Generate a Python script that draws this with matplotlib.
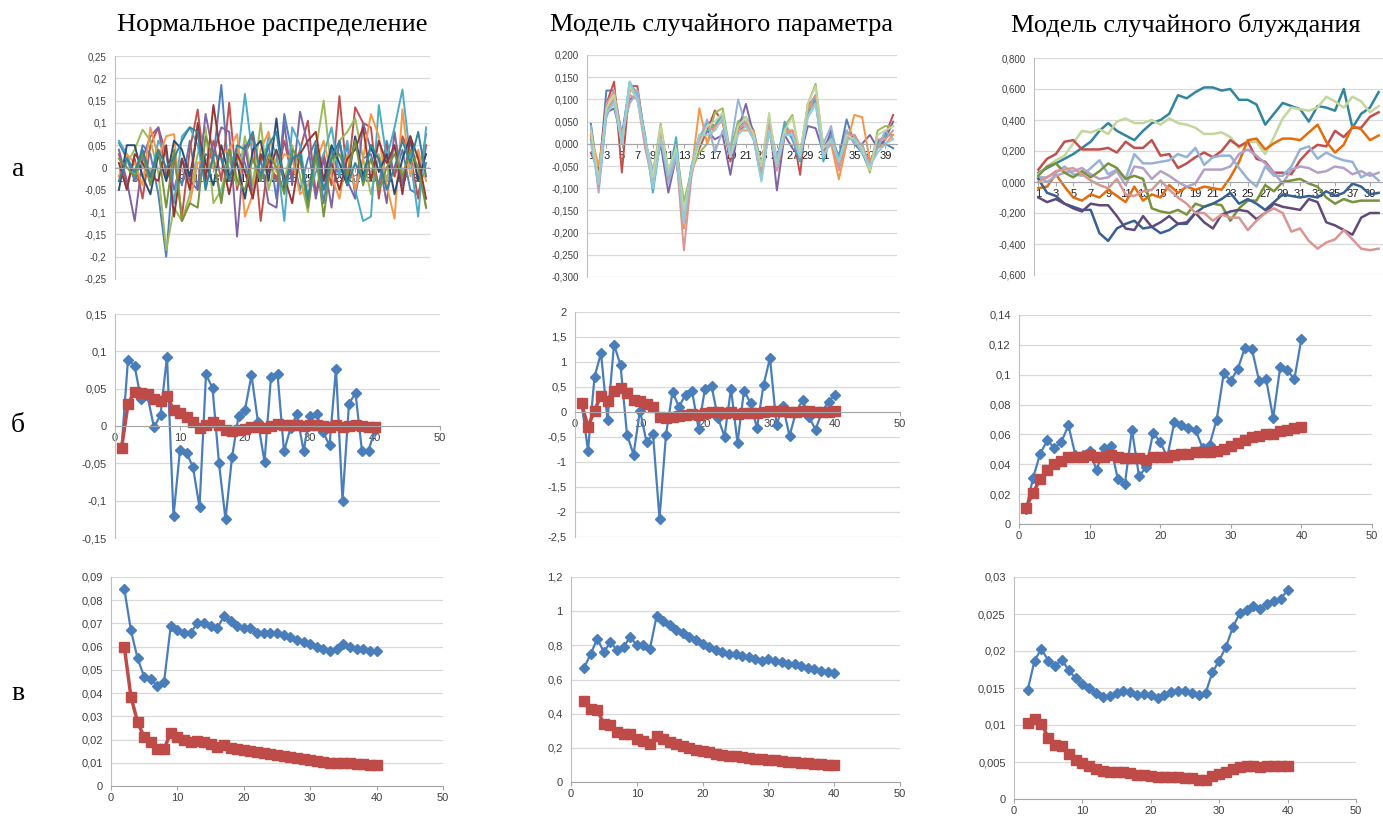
import matplotlib

matplotlib.use("Agg")
import matplotlib.pyplot as plt
from matplotlib.ticker import FuncFormatter, MultipleLocator

# ---- column titles / row letters
col_titles = ["Нормальное распределение", "Модель случайного параметра", "Модель случайного блуждания"]
row_letters = ["а", "б", "в"]

# ---- row а: individual runs (categories 1..40)
categories = list(range(1, 41))

normal_runs = [
    [0.055, 0.02, -0.03, 0.05, 0.03, -0.06, -0.2, 0.02, -0.04, 0.06, -0.05, 0.03, 0.02, 0.185, -0.03, 0.04, 0.01, -0.06, 0.02, 0.05,
     -0.07, 0.12, 0.03, -0.05, 0.02, 0.06, -0.08, 0.04, -0.02, 0.05, -0.06, 0.02, 0.03, -0.04, 0.06, -0.02, 0.04, -0.05, -0.06, 0.01],
    [0.03, -0.04, 0.02, -0.07, 0.05, 0.09, -0.02, 0.03, -0.11, 0.04, 0.13, -0.02, 0.06, -0.03, 0.145, -0.05, 0.03, 0.07, -0.12, 0.02,
     -0.03, 0.06, -0.02, 0.04, 0.105, -0.06, 0.03, -0.04, 0.16, -0.03, 0.135, 0.10, 0.09, -0.07, 0.05, -0.02, 0.07, 0.03, -0.07, 0.05],
    [-0.02, 0.01, 0.04, 0.085, 0.06, -0.01, -0.185, -0.09, -0.12, -0.06, 0.03, 0.09, -0.08, -0.05, 0.02, -0.04, 0.07, -0.04, 0.10, -0.05,
     0.02, -0.03, 0.05, -0.02, -0.10, 0.04, 0.15, -0.01, 0.06, 0.08, 0.11, 0.02, -0.06, 0.03, -0.03, 0.05, -0.02, 0.01, 0.03, -0.09],
    [0.04, -0.03, -0.12, 0.02, 0.07, 0.09, 0.03, -0.05, 0.02, -0.03, -0.05, 0.12, 0.03, 0.09, 0.08, -0.155, 0.05, -0.06, 0.02, -0.08,
     -0.09, 0.10, -0.04, 0.125, 0.05, -0.07, 0.02, -0.09, 0.06, -0.03, -0.07, 0.10, 0.04, 0.02, -0.08, 0.08, -0.04, 0.06, -0.03, 0.075],
    [0.06, 0.03, -0.02, 0.01, -0.03, 0.06, 0.03, -0.08, 0.07, 0.09, 0.05, -0.04, 0.02, -0.07, 0.03, 0.01, 0.165, 0.02, -0.03, 0.07,
     0.03, -0.12, 0.09, 0.05, -0.07, -0.01, 0.03, 0.09, -0.02, 0.06, -0.05, -0.12, -0.11, 0.14, 0.02, 0.09, 0.175, 0.02, -0.11, 0.09],
    [-0.02, 0.03, 0.01, -0.04, 0.09, 0.02, 0.07, 0.075, -0.12, -0.08, 0.01, 0.02, 0.00, 0.03, 0.04, 0.075, -0.11, -0.06, 0.04, 0.08,
     -0.01, 0.03, 0.02, -0.06, -0.04, 0.01, 0.06, -0.02, -0.07, 0.03, -0.05, 0.02, 0.12, 0.07, -0.04, -0.115, 0.13, -0.02, 0.04, -0.03],
    [-0.05, 0.05, 0.05, -0.02, -0.06, 0.03, -0.03, 0.06, 0.04, -0.02, 0.08, 0.01, -0.04, 0.05, -0.02, 0.01, -0.07, 0.04, 0.06, -0.03,
     0.11, -0.05, 0.02, 0.03, -0.08, 0.04, -0.03, 0.05, 0.01, -0.04, 0.07, -0.02, 0.05, -0.01, 0.03, -0.06, 0.02, 0.07, -0.03, 0.03],
    [0.01, -0.05, 0.03, 0.01, -0.02, -0.03, 0.05, -0.11, 0.02, -0.05, 0.10, -0.03, 0.14, 0.02, -0.06, 0.03, -0.01, -0.07, 0.03, -0.01,
     0.04, -0.02, -0.08, 0.03, 0.06, 0.08, -0.03, 0.01, -0.05, 0.02, 0.04, 0.09, -0.03, 0.06, 0.01, 0.05, -0.06, 0.07, 0.02, -0.07],
    [0.02, 0.00, -0.02, 0.03, -0.04, 0.04, -0.09, 0.04, -0.12, -0.08, -0.09, 0.07, 0.02, -0.08, 0.04, -0.03, -0.05, 0.02, -0.03, 0.03,
     0.00, -0.06, 0.04, 0.02, -0.09, 0.03, -0.11, 0.02, 0.03, -0.02, 0.06, -0.04, 0.02, -0.05, 0.00, 0.03, -0.02, 0.04, 0.00, -0.09],
    [-0.03, 0.02, -0.01, 0.04, -0.02, 0.04, 0.00, 0.02, 0.06, 0.09, 0.08, -0.05, 0.03, 0.02, -0.03, 0.05, 0.04, 0.08, -0.02, 0.05,
     0.08, -0.04, 0.02, 0.03, -0.07, 0.05, -0.05, 0.02, 0.06, -0.04, 0.01, -0.03, 0.05, 0.02, -0.05, 0.00, 0.06, 0.01, 0.08, -0.02],
]

param_runs = [
    [0.045, -0.08, 0.12, 0.12, 0.02, 0.13, 0.10, 0.01, -0.09, 0.01, -0.06, -0.03, -0.16, -0.05, 0.01, 0.05, 0.04, 0.06, -0.02, 0.05,
     0.06, 0.03, -0.05, 0.05, -0.04, 0.04, 0.01, -0.02, 0.08, 0.11, -0.02, 0.00, -0.03, 0.055, 0.00, -0.02, -0.06, 0.01, 0.00, -0.01],
    [-0.02, -0.06, 0.09, 0.14, -0.065, 0.13, 0.13, 0.01, -0.085, 0.02, -0.07, -0.02, -0.19, -0.05, -0.01, 0.03, 0.075, 0.05, -0.04, 0.03,
     0.04, 0.02, -0.07, 0.03, -0.06, 0.02, 0.03, -0.07, 0.09, 0.10, -0.01, 0.02, -0.05, 0.01, 0.02, -0.01, -0.04, 0.00, 0.02, 0.065],
    [0.02, -0.09, 0.07, 0.11, 0.00, 0.12, 0.12, 0.00, -0.07, 0.045, -0.06, -0.01, -0.13, -0.06, -0.02, 0.00, 0.07, 0.08, -0.02, 0.05,
     0.06, 0.02, -0.06, 0.05, -0.05, 0.04, 0.065, -0.03, 0.09, 0.135, -0.01, 0.01, -0.04, 0.02, 0.01, -0.01, -0.065, 0.03, 0.04, 0.04],
    [0.03, -0.10, 0.07, 0.08, 0.01, 0.10, 0.11, 0.01, -0.08, 0.00, -0.11, -0.03, -0.18, -0.06, 0.00, 0.03, 0.01, 0.02, -0.07, 0.03,
     0.09, 0.02, -0.05, 0.06, -0.105, 0.02, -0.01, -0.03, 0.04, 0.035, -0.02, 0.03, -0.04, 0.03, 0.00, 0.00, 0.02, -0.01, 0.01, 0.05],
    [0.01, -0.09, 0.08, 0.10, 0.01, 0.14, 0.11, 0.02, -0.11, 0.01, -0.08, 0.015, -0.17, -0.05, 0.02, 0.03, 0.04, 0.07, -0.03, 0.04,
     0.05, 0.01, -0.08, 0.03, -0.04, 0.05, 0.01, -0.04, 0.07, 0.10, -0.04, 0.02, -0.03, 0.02, 0.02, -0.02, -0.05, 0.00, 0.02, 0.02],
    [0.02, -0.05, 0.06, 0.11, 0.00, 0.12, 0.12, 0.00, -0.08, 0.03, -0.075, -0.02, -0.19, -0.06, 0.08, 0.00, 0.04, 0.05, -0.02, 0.03,
     0.03, 0.03, -0.07, 0.04, -0.05, 0.03, 0.03, -0.03, 0.08, 0.09, -0.02, 0.00, -0.08, 0.00, 0.065, 0.06, -0.04, -0.01, 0.00, 0.02],
    [0.04, -0.11, 0.06, 0.10, 0.02, 0.09, 0.12, 0.01, -0.06, 0.02, -0.09, -0.03, -0.16, -0.07, 0.01, 0.055, -0.02, 0.03, -0.01, 0.10,
     0.04, 0.02, -0.06, 0.05, -0.03, 0.03, 0.02, -0.03, 0.06, 0.09, 0.00, 0.04, -0.05, 0.03, 0.00, 0.00, -0.05, -0.01, 0.03, 0.01],
    [0.02, -0.10, 0.09, 0.12, 0.01, 0.11, 0.10, -0.01, -0.09, 0.02, -0.07, -0.02, -0.24, -0.07, 0.01, 0.04, 0.03, 0.06, -0.03, 0.03,
     0.05, 0.01, -0.06, 0.04, -0.06, 0.02, 0.03, -0.03, 0.08, 0.11, -0.01, 0.01, -0.06, 0.02, 0.02, -0.01, -0.05, 0.01, 0.01, 0.03],
    [0.03, -0.08, 0.08, 0.11, 0.00, 0.13, 0.10, 0.01, -0.075, 0.04, -0.06, -0.01, -0.15, -0.06, 0.00, 0.04, 0.05, 0.07, -0.03, 0.04,
     0.06, 0.02, -0.05, 0.07, -0.05, 0.03, 0.06, -0.02, 0.09, 0.13, -0.01, 0.01, -0.04, 0.02, 0.01, -0.01, -0.06, 0.02, 0.03, 0.04],
    [0.00, -0.09, 0.07, 0.09, 0.00, 0.14, 0.10, 0.01, -0.10, 0.01, -0.07, -0.02, -0.18, -0.05, 0.02, 0.02, 0.03, 0.06, -0.03, 0.02,
     0.04, 0.01, -0.085, 0.03, -0.05, 0.02, 0.02, -0.03, 0.06, 0.09, -0.03, 0.01, -0.04, 0.01, 0.01, -0.02, -0.05, -0.02, 0.00, 0.01],
]

walk_runs = [
    [0.06, 0.09, 0.12, 0.15, 0.18, 0.22, 0.26, 0.33, 0.38, 0.33, 0.30, 0.27, 0.33, 0.38, 0.40, 0.44, 0.56, 0.54, 0.58, 0.61,
     0.61, 0.59, 0.60, 0.53, 0.53, 0.50, 0.37, 0.44, 0.51, 0.49, 0.47, 0.39, 0.49, 0.48, 0.46, 0.60, 0.35, 0.44, 0.48, 0.58],
    [0.05, 0.10, 0.14, 0.17, 0.25, 0.33, 0.32, 0.34, 0.31, 0.39, 0.41, 0.38, 0.38, 0.40, 0.37, 0.41, 0.38, 0.37, 0.35, 0.31,
     0.31, 0.32, 0.29, 0.22, 0.26, 0.26, 0.18, 0.29, 0.41, 0.48, 0.47, 0.46, 0.48, 0.55, 0.52, 0.48, 0.55, 0.52, 0.45, 0.49],
    [0.08, 0.15, 0.18, 0.26, 0.27, 0.21, 0.21, 0.21, 0.22, 0.19, 0.26, 0.22, 0.22, 0.27, 0.17, 0.18, 0.09, 0.12, 0.16, 0.19,
     0.16, 0.20, 0.27, 0.23, 0.26, 0.15, 0.13, 0.06, 0.06, 0.05, 0.14, 0.20, 0.24, 0.23, 0.33, 0.29, 0.35, 0.35, 0.42, 0.45],
    [-0.04, -0.03, 0.05, -0.03, -0.10, -0.12, -0.08, -0.10, -0.05, -0.09, -0.13, -0.03, -0.12, -0.08, -0.10, -0.02, -0.07, -0.03, -0.05, -0.03,
     -0.04, -0.05, 0.03, 0.13, 0.27, 0.28, 0.21, 0.25, 0.28, 0.28, 0.27, 0.32, 0.37, 0.26, 0.19, 0.24, 0.36, 0.34, 0.27, 0.30],
    [0.03, 0.03, 0.06, 0.10, 0.05, 0.04, 0.09, 0.14, 0.05, 0.08, 0.02, 0.18, 0.12, 0.12, 0.13, 0.14, 0.18, 0.16, 0.22, 0.11,
     0.16, 0.17, 0.17, 0.09, 0.02, -0.03, 0.10, 0.04, 0.04, 0.10, 0.21, 0.23, 0.15, 0.19, 0.16, 0.14, 0.13, 0.03, 0.06, 0.01],
    [0.03, 0.00, 0.04, 0.06, 0.07, 0.09, 0.05, 0.02, 0.03, 0.07, -0.02, 0.10, 0.09, 0.02, 0.07, 0.04, 0.00, -0.03, -0.01, 0.08,
     0.08, 0.08, 0.10, 0.18, 0.21, 0.17, 0.12, 0.06, -0.01, 0.08, 0.10, 0.09, 0.06, 0.07, 0.10, 0.09, 0.05, 0.07, 0.04, 0.06],
    [0.04, 0.10, 0.12, 0.06, 0.03, 0.07, 0.03, 0.07, 0.12, 0.09, 0.02, 0.04, 0.02, -0.17, -0.19, -0.20, -0.18, -0.21, -0.14, -0.16,
     -0.14, -0.15, -0.25, -0.17, -0.12, -0.12, -0.02, -0.06, 0.00, 0.01, 0.02, -0.01, -0.03, -0.10, -0.14, -0.11, -0.13, -0.12, -0.12, -0.12],
    [0.02, -0.07, -0.09, -0.14, -0.16, -0.18, -0.18, -0.33, -0.38, -0.30, -0.27, -0.25, -0.30, -0.29, -0.33, -0.31, -0.27, -0.27, -0.20, -0.16,
     -0.14, -0.11, -0.07, -0.14, -0.11, -0.14, -0.18, -0.13, -0.08, -0.09, -0.10, -0.09, -0.10, -0.06, -0.09, -0.07, -0.01, -0.03, -0.08, -0.07],
    [-0.10, -0.13, -0.11, -0.14, -0.17, -0.19, -0.14, -0.15, -0.15, -0.22, -0.30, -0.31, -0.22, -0.29, -0.26, -0.22, -0.27, -0.26, -0.20, -0.26,
     -0.30, -0.21, -0.19, -0.18, -0.19, -0.24, -0.20, -0.14, -0.16, -0.17, -0.18, -0.11, -0.13, -0.26, -0.28, -0.31, -0.34, -0.23, -0.20, -0.20],
    [0.00, 0.03, 0.07, 0.08, 0.09, 0.05, 0.01, -0.02, -0.04, 0.02, -0.08, -0.09, -0.06, -0.05, 0.01, -0.05, -0.10, -0.14, -0.20, -0.20,
     -0.25, -0.21, -0.23, -0.23, -0.31, -0.25, -0.20, -0.17, -0.20, -0.32, -0.30, -0.38, -0.43, -0.39, -0.37, -0.31, -0.37, -0.43, -0.44, -0.43],
]

# ---- row б: single run (blue) and running mean (red), n = 1..40
steps_b = list(range(1, 41))
normal_value = [-0.03, 0.089, 0.081, 0.036, 0.04, -0.002, 0.015, 0.093, -0.121, -0.032, -0.036, -0.055, -0.109, 0.069, 0.051, -0.05,
                -0.125, -0.042, 0.013, 0.022, 0.068, 0.005, -0.048, 0.066, 0.070, -0.034, -0.003, 0.016, -0.033, 0.013,
                0.016, -0.008, -0.026, 0.077, -0.1, 0.03, 0.044, -0.034, -0.033, -0.005]
normal_mean = [-0.03, 0.029, 0.046, 0.044, 0.043, 0.036, 0.033, 0.04, 0.022, 0.017, 0.012, 0.006, -0.003, 0.002, 0.005, 0.002,
               -0.005, -0.007, -0.006, -0.004, -0.002, -0.001, -0.003, 0.0, 0.003, 0.002, 0.001, 0.001, 0.0, 0.001,
               0.001, 0.0, -0.001, 0.001, -0.001, 0.0, 0.001, 0.0, -0.001, -0.001]
param_value = [0.18, -0.77, 0.7, 1.18, -0.16, 1.35, 0.94, -0.45, -0.85, 0.03, -0.6, -0.44, -2.13, -0.45, 0.4, 0.1, 0.35, 0.43, -0.33, 0.47,
               0.52, -0.12, -0.49, 0.47, -0.62, 0.43, 0.18, -0.32, 0.54, 1.08, -0.25, 0.12, -0.48, 0.0, 0.24, -0.1, -0.35, 0.0, 0.21, 0.34]
param_mean = [0.18, -0.3, 0.03, 0.33, 0.23, 0.42, 0.49, 0.38, 0.24, 0.22, 0.16, 0.11, -0.1, -0.12, -0.09, -0.08, -0.06, -0.03, -0.05, -0.02,
              0.0, 0.0, -0.02, 0.0, -0.03, -0.01, -0.01, -0.02, 0.0, 0.03, 0.03, 0.03, 0.01, 0.01, 0.02, 0.02, 0.01, 0.01, 0.01, 0.02]
walk_value = [0.01, 0.031, 0.047, 0.056, 0.051, 0.055, 0.066, 0.046, 0.046, 0.049, 0.036, 0.051, 0.052, 0.030, 0.027, 0.063, 0.032, 0.038,
              0.061, 0.055, 0.045, 0.068, 0.066, 0.064, 0.063, 0.051, 0.053, 0.070, 0.101, 0.096, 0.104, 0.118, 0.117, 0.096, 0.097,
              0.071, 0.105, 0.103, 0.097, 0.124]
walk_mean = [0.011, 0.021, 0.030, 0.036, 0.040, 0.042, 0.045, 0.045, 0.045, 0.046, 0.045, 0.045, 0.046, 0.045, 0.044, 0.044, 0.044, 0.043,
             0.045, 0.045, 0.045, 0.046, 0.047, 0.047, 0.048, 0.048, 0.048, 0.049, 0.050, 0.052, 0.054, 0.056, 0.058, 0.059, 0.060,
             0.060, 0.062, 0.063, 0.064, 0.065]

# ---- row в: two statistics, n = 2..40
steps_c = list(range(2, 41))
normal_upper = [0.085, 0.067, 0.055, 0.047, 0.046, 0.043, 0.045, 0.069, 0.067, 0.066, 0.066, 0.070, 0.070, 0.069, 0.068, 0.073, 0.071,
                0.069, 0.068, 0.068, 0.066, 0.066, 0.066, 0.066, 0.065, 0.064, 0.063, 0.062, 0.061, 0.060, 0.059, 0.058, 0.059,
                0.061, 0.060, 0.059, 0.059, 0.058, 0.058]
normal_lower = [0.060, 0.0385, 0.0275, 0.021, 0.019, 0.016, 0.016, 0.023, 0.021, 0.020, 0.019, 0.0195, 0.019, 0.018, 0.017, 0.0175,
                0.0165, 0.016, 0.0155, 0.015, 0.0145, 0.014, 0.0137, 0.0133, 0.013, 0.0127, 0.012, 0.0115, 0.011, 0.0107, 0.0103,
                0.010, 0.010, 0.010, 0.0098, 0.0096, 0.0094, 0.0092, 0.009]
param_upper = [0.67, 0.75, 0.84, 0.76, 0.82, 0.77, 0.79, 0.85, 0.80, 0.80, 0.78, 0.97, 0.94, 0.92, 0.89, 0.87, 0.85, 0.83, 0.81, 0.79,
               0.77, 0.76, 0.75, 0.75, 0.74, 0.73, 0.72, 0.71, 0.72, 0.71, 0.70, 0.69, 0.69, 0.68, 0.67, 0.66, 0.65, 0.645, 0.64]
param_lower = [0.475, 0.43, 0.42, 0.34, 0.335, 0.29, 0.28, 0.28, 0.25, 0.24, 0.225, 0.27, 0.25, 0.235, 0.22, 0.21, 0.20, 0.19, 0.18,
               0.175, 0.165, 0.16, 0.155, 0.15, 0.145, 0.14, 0.137, 0.133, 0.13, 0.128, 0.124, 0.12, 0.117, 0.113, 0.11, 0.108,
               0.105, 0.102, 0.10]
walk_upper = [0.0147, 0.0187, 0.0203, 0.0187, 0.0180, 0.0188, 0.0174, 0.0163, 0.0155, 0.0150, 0.0143, 0.0138, 0.0139, 0.0143, 0.0146,
              0.0144, 0.0141, 0.0142, 0.0141, 0.0136, 0.0141, 0.0145, 0.0146, 0.0146, 0.0143, 0.0140, 0.0143, 0.0171, 0.0187,
              0.0206, 0.0232, 0.0251, 0.0256, 0.0261, 0.0257, 0.0263, 0.0268, 0.0270, 0.0283]
walk_lower = [0.0103, 0.0108, 0.0102, 0.0083, 0.0073, 0.0071, 0.0061, 0.0053, 0.0048, 0.0045, 0.0041, 0.0038, 0.0037, 0.0036, 0.0036,
              0.0035, 0.0033, 0.0032, 0.0031, 0.0030, 0.0030, 0.0030, 0.0030, 0.0029, 0.0028, 0.0026, 0.0026, 0.0031, 0.0034,
              0.0037, 0.0041, 0.0043, 0.0044, 0.0044, 0.0043, 0.0044, 0.0044, 0.0044, 0.0045]

normal_colors = ["#4F81BD", "#C0504D", "#9BBB59", "#8064A2", "#4BACC6", "#F79646", "#2C4D75", "#953735", "#77933C", "#31859C"]
param_colors = ["#4F81BD", "#C0504D", "#9BBB59", "#8064A2", "#4BACC6", "#F79646", "#95B3D7", "#D99694", "#C3D69B", "#93CDDD"]
walk_colors = ["#31859C", "#C3D69B", "#C0504D", "#E46C0A", "#95B3D7", "#B3A2C7", "#77933C", "#376092", "#604A7B", "#D99694"]

BLUE = "#4A7EBB"
RED = "#BE4B48"
W, H = 1383, 818
TICK_FONT = "Liberation Sans"
TITLE_FONT = "Liberation Serif"

fig = plt.figure(figsize=(W / 100, H / 100), dpi=100)


def px_axes(left, top, right, bottom):
    return fig.add_axes([left / W, 1 - bottom / H, (right - left) / W, (bottom - top) / H])


def comma_general(v, pos):
    v = round(v, 6)
    if v == 0:
        return "0"
    return f"{v:g}".replace(".", ",")


def comma_fixed3(v, pos):
    v = round(v, 6)
    if v == 0:
        v = 0.0
    return f"{v:.3f}".replace(".", ",")


def style_axes(ax, ylim, ystep, yfmt, zero_axis, xsize, ysize):
    ax.set_ylim(*ylim)
    ax.yaxis.set_major_locator(MultipleLocator(ystep))
    ax.yaxis.set_major_formatter(FuncFormatter(yfmt))
    ax.grid(axis="y", color="#D9D9D9", linewidth=0.9)
    ax.set_axisbelow(True)
    for side in ("top", "right"):
        ax.spines[side].set_visible(False)
    ax.spines["left"].set_color("#BFBFBF")
    ax.spines["bottom"].set_color("#A6A6A6")
    if zero_axis:
        ax.spines["bottom"].set_position(("data", 0))
    ax.tick_params(axis="y", length=0, pad=6, labelsize=ysize, labelcolor="#404040")
    ax.tick_params(axis="x", length=3, color="#A6A6A6", pad=2, labelsize=xsize, labelcolor="#404040")
    for lab in ax.get_xticklabels() + ax.get_yticklabels():
        lab.set_fontfamily(TICK_FONT)


# ---- row а
top_specs = [
    ((115, 56, 430, 279), normal_runs, normal_colors, (-0.25, 0.25), 0.05, comma_general, 1.4),
    ((587, 55, 897, 277), param_runs, param_colors, (-0.3, 0.2), 0.05, comma_fixed3, 1.4),
    ((1034, 58, 1383, 275), walk_runs, walk_colors, (-0.6, 0.8), 0.2, comma_fixed3, 1.8),
]
for box, runs, colors, ylim, ystep, yfmt, lw in top_specs:
    ax = px_axes(*box)
    for run, color in zip(runs, colors):
        ax.plot(categories, run, color=color, linewidth=lw, solid_joinstyle="round")
    ax.set_xlim(0.5, 40.5)
    ax.set_xticks(categories[::2])
    ax.set_xticklabels([str(c) for c in categories[::2]])
    style_axes(ax, ylim, ystep, yfmt, True, 8, 7)
    for lab in ax.get_xticklabels():
        lab.set_color("#202020")

# ---- row б
mid_specs = [
    ((115, 314, 440, 538), normal_value, normal_mean, (-0.15, 0.15), 0.05, True),
    ((575, 312, 900, 537), param_value, param_mean, (-2.5, 2.0), 0.5, True),
    ((1019, 315, 1372, 524), walk_value, walk_mean, (0, 0.14), 0.02, False),
]
for box, values, means, ylim, ystep, zero_axis in mid_specs:
    ax = px_axes(*box)
    ax.plot(steps_b, values, color=BLUE, linewidth=1.6, marker="D", markersize=5.5)
    ax.plot(steps_b, means, color=RED, linewidth=2.5, marker="s", markersize=7)
    ax.set_xlim(0, 50)
    ax.xaxis.set_major_locator(MultipleLocator(10))
    style_axes(ax, ylim, ystep, comma_general, zero_axis, 8, 8)

# ---- row в
bot_specs = [
    ((111, 577, 443, 786), normal_upper, normal_lower, (0, 0.09), 0.01),
    ((571, 577, 900, 782), param_upper, param_lower, (0, 1.2), 0.2),
    ((1014, 577, 1356, 799), walk_upper, walk_lower, (0, 0.03), 0.005),
]
for box, upper, lower, ylim, ystep in bot_specs:
    ax = px_axes(*box)
    ax.plot(steps_c, upper, color=BLUE, linewidth=1.6, marker="D", markersize=5.5)
    ax.plot(steps_c, lower, color=RED, linewidth=2.5, marker="s", markersize=7)
    ax.set_xlim(0, 50)
    ax.xaxis.set_major_locator(MultipleLocator(10))
    style_axes(ax, ylim, ystep, comma_general, False, 8, 8)

# ---- titles and row letters
for title, xc in zip(col_titles, [272, 722, 1186]):
    fig.text(xc / W, 1 - 25 / H, title, ha="center", va="center", fontsize=19, fontfamily=TITLE_FONT)
for letter, yc in zip(row_letters, [170, 425, 693]):
    fig.text(18 / W, 1 - yc / H, letter, ha="center", va="center", fontsize=20, fontfamily=TITLE_FONT)

fig.savefig("out.png", dpi=100)
